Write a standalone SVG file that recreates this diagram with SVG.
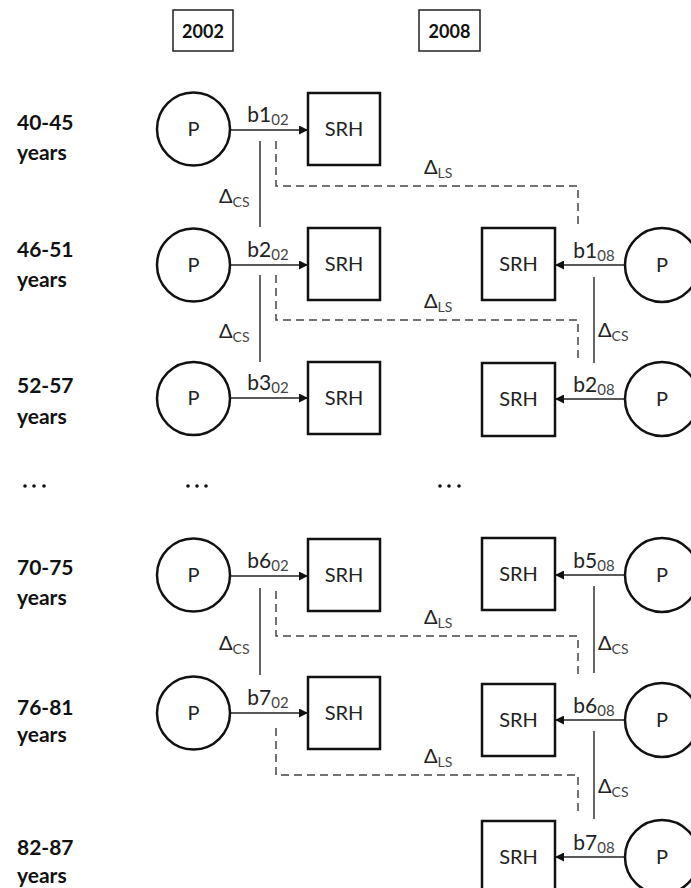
<svg xmlns="http://www.w3.org/2000/svg" width="691" height="888" viewBox="0 0 691 888">
<defs>
<style>
.p{fill:#fff;stroke:#111;stroke-width:2.5}
.b{fill:#fff;stroke:#111;stroke-width:2.5}
.t{font-family:Lato,"Open Sans","DejaVu Sans",sans-serif;font-size:20px;fill:#222;text-anchor:middle}
.bl{font-family:Lato,"Open Sans","DejaVu Sans",sans-serif;font-size:21px;fill:#222;text-anchor:middle}
.lab{font-family:Lato,"Open Sans","DejaVu Sans",sans-serif;font-size:20px;fill:#222}
.sub{font-size:14px;fill:#444}
.sb{font-size:15px;fill:#444}
.yr{font-family:Lato,"Open Sans","DejaVu Sans",sans-serif;font-size:21px;font-weight:bold;fill:#111}
.hd{font-family:Lato,"Open Sans","DejaVu Sans",sans-serif;font-size:18px;font-weight:bold;fill:#111;text-anchor:middle}
.arr{stroke:#222;stroke-width:1.5;fill:none;marker-end:url(#ah)}
.cs{stroke:#333;stroke-width:1.5;fill:none}
.ls{stroke:#444;stroke-width:1.5;fill:none;stroke-dasharray:8 5}
</style>
<marker id="ah" viewBox="0 0 10 10" refX="10" refY="5" markerWidth="6" markerHeight="6" markerUnits="strokeWidth" orient="auto">
<path d="M0,0 L10,5 L0,10 z" fill="#111"/>
</marker>
</defs>
<rect width="691" height="888" fill="#fff"/>

<g id="headers">
<rect x="173" y="10" width="60" height="41" fill="#fff" stroke="#222" stroke-width="1.5"/>
<text class="hd" x="203" y="38">2002</text>
<rect x="419" y="10" width="61" height="41" fill="#fff" stroke="#222" stroke-width="1.5"/>
<text class="hd" x="449.5" y="38">2008</text>
</g>

<g id="age-labels">
<text class="yr" x="17" y="130">40-45</text><text class="yr" x="17" y="160">years</text>
<text class="yr" x="17" y="257">46-51</text><text class="yr" x="17" y="287">years</text>
<text class="yr" x="17" y="393">52-57</text><text class="yr" x="17" y="424">years</text>
<text class="yr" x="17" y="575">70-75</text><text class="yr" x="17" y="605">years</text>
<text class="yr" x="17" y="715">76-81</text><text class="yr" x="17" y="742">years</text>
<text class="yr" x="17" y="855">82-87</text><text class="yr" x="17" y="883">years</text>
</g>

<g id="ellipsis" fill="#111">
<circle cx="25" cy="486" r="1.8"/><circle cx="34" cy="486" r="1.8"/><circle cx="44" cy="486" r="1.8"/>
<circle cx="188" cy="486" r="1.8"/><circle cx="197" cy="486" r="1.8"/><circle cx="206" cy="486" r="1.8"/>
<circle cx="440" cy="486" r="1.8"/><circle cx="449" cy="486" r="1.8"/><circle cx="459" cy="486" r="1.8"/>
</g>

<g id="connectors">
<line class="arr" x1="230" y1="130" x2="308" y2="130"/>
<line class="arr" x1="230" y1="265" x2="308" y2="265"/>
<line class="arr" x1="230" y1="398" x2="308" y2="398"/>
<line class="arr" x1="230" y1="576" x2="308" y2="576"/>
<line class="arr" x1="230" y1="713" x2="308" y2="713"/>
<line class="arr" x1="625" y1="265" x2="555" y2="265"/>
<line class="arr" x1="625" y1="399" x2="555" y2="399"/>
<line class="arr" x1="625" y1="575" x2="555" y2="575"/>
<line class="arr" x1="625" y1="720" x2="555" y2="720"/>
<line class="arr" x1="625" y1="857" x2="555" y2="857"/>
<line class="cs" x1="260" y1="141" x2="260" y2="227"/>
<line class="cs" x1="260" y1="275" x2="260" y2="362"/>
<line class="cs" x1="260" y1="588" x2="260" y2="675"/>
<line class="cs" x1="594" y1="277" x2="594" y2="363"/>
<line class="cs" x1="594" y1="586" x2="594" y2="673"/>
<line class="cs" x1="594" y1="731" x2="594" y2="819"/>
<polyline class="ls" points="276,141 276,186 578,186 578,226"/>
<polyline class="ls" points="276,275 276,320 578,320 578,360"/>
<polyline class="ls" points="276,591 276,636 578,636 578,674"/>
<polyline class="ls" points="276,728 276,775 578,775 578,815"/>
<text class="bl" x="268" y="122">b1<tspan class="sb" dy="3">02</tspan></text>
<text class="bl" x="268" y="257">b2<tspan class="sb" dy="3">02</tspan></text>
<text class="bl" x="268" y="390">b3<tspan class="sb" dy="3">02</tspan></text>
<text class="bl" x="268" y="568">b6<tspan class="sb" dy="3">02</tspan></text>
<text class="bl" x="268" y="705">b7<tspan class="sb" dy="3">02</tspan></text>
<text class="bl" x="594" y="258">b1<tspan class="sb" dy="3">08</tspan></text>
<text class="bl" x="594" y="392">b2<tspan class="sb" dy="3">08</tspan></text>
<text class="bl" x="594" y="568">b5<tspan class="sb" dy="3">08</tspan></text>
<text class="bl" x="594" y="713">b6<tspan class="sb" dy="3">08</tspan></text>
<text class="bl" x="594" y="850">b7<tspan class="sb" dy="3">08</tspan></text>
<text class="lab" x="219" y="203">Δ<tspan class="sub" dy="4">CS</tspan></text>
<text class="lab" x="219" y="338">Δ<tspan class="sub" dy="4">CS</tspan></text>
<text class="lab" x="219" y="650">Δ<tspan class="sub" dy="4">CS</tspan></text>
<text class="lab" x="598" y="337">Δ<tspan class="sub" dy="4">CS</tspan></text>
<text class="lab" x="598" y="650">Δ<tspan class="sub" dy="4">CS</tspan></text>
<text class="lab" x="598" y="793">Δ<tspan class="sub" dy="4">CS</tspan></text>
<text class="lab" x="424" y="174">Δ<tspan class="sub" dy="4">LS</tspan></text>
<text class="lab" x="424" y="308">Δ<tspan class="sub" dy="4">LS</tspan></text>
<text class="lab" x="424" y="624">Δ<tspan class="sub" dy="4">LS</tspan></text>
<text class="lab" x="424" y="763">Δ<tspan class="sub" dy="4">LS</tspan></text>
</g>

<g id="p02-1"><circle class="p" cx="193.5" cy="129" r="36.5"/><text class="t" x="193.5" y="136">P</text></g>
<g id="srh02-1"><rect class="b" x="308" y="93" width="72" height="72"/><text class="t" x="344" y="136">SRH</text></g>
<g id="p02-2"><circle class="p" cx="193.5" cy="265" r="36.5"/><text class="t" x="193.5" y="272">P</text></g>
<g id="srh02-2"><rect class="b" x="308" y="228" width="72" height="72"/><text class="t" x="344" y="271">SRH</text></g>
<g id="p02-3"><circle class="p" cx="193.5" cy="398.5" r="36.5"/><text class="t" x="193.5" y="405">P</text></g>
<g id="srh02-3"><rect class="b" x="308" y="362" width="72" height="72"/><text class="t" x="344" y="405">SRH</text></g>
<g id="p02-6"><circle class="p" cx="193.5" cy="575" r="36.5"/><text class="t" x="193.5" y="582">P</text></g>
<g id="srh02-6"><rect class="b" x="308" y="539" width="72" height="72"/><text class="t" x="344" y="582">SRH</text></g>
<g id="p02-7"><circle class="p" cx="193.5" cy="713" r="36.5"/><text class="t" x="193.5" y="720">P</text></g>
<g id="srh02-7"><rect class="b" x="308" y="677" width="72" height="72"/><text class="t" x="344" y="720">SRH</text></g>

<g id="p08-1"><circle class="p" cx="662" cy="265" r="37"/><text class="t" x="662" y="272">P</text></g>
<g id="srh08-1"><rect class="b" x="482" y="228" width="73" height="72"/><text class="t" x="518.5" y="271">SRH</text></g>
<g id="p08-2"><circle class="p" cx="662" cy="399" r="37"/><text class="t" x="662" y="406">P</text></g>
<g id="srh08-2"><rect class="b" x="482" y="363" width="73" height="73"/><text class="t" x="518.5" y="406">SRH</text></g>
<g id="p08-5"><circle class="p" cx="662" cy="575" r="37"/><text class="t" x="662" y="582">P</text></g>
<g id="srh08-5"><rect class="b" x="482" y="538" width="73" height="72"/><text class="t" x="518.5" y="581">SRH</text></g>
<g id="p08-6"><circle class="p" cx="662" cy="720" r="37"/><text class="t" x="662" y="727">P</text></g>
<g id="srh08-6"><rect class="b" x="482" y="684" width="73" height="72"/><text class="t" x="518.5" y="727">SRH</text></g>
<g id="p08-7"><circle class="p" cx="662" cy="857" r="37"/><text class="t" x="662" y="864">P</text></g>
<g id="srh08-7"><rect class="b" x="482" y="821" width="73" height="72"/><text class="t" x="518.5" y="864">SRH</text></g>
</svg>
